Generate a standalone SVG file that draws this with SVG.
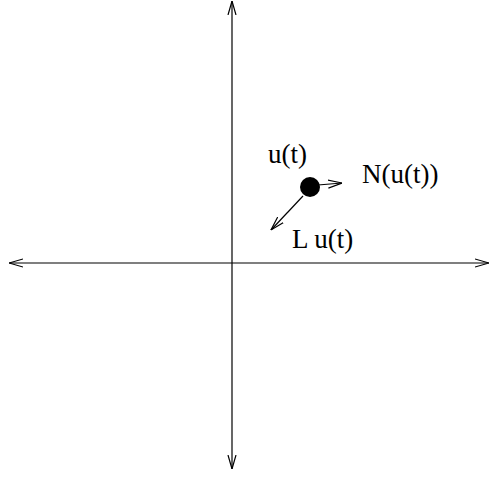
<svg xmlns="http://www.w3.org/2000/svg" width="491" height="478" viewBox="0 0 491 478">
<defs>
<style>
.ln{stroke:#000;stroke-width:1.2;fill:none}
.t{font-family:"Liberation Serif","Times New Roman",serif;font-size:27px;fill:#000}
</style>
<marker id="ah" viewBox="0 0 14 10" refX="14" refY="5" markerWidth="14" markerHeight="10" markerUnits="userSpaceOnUse" orient="auto">
<path d="M0,1 L14,5 L0,9" fill="none" stroke="#000" stroke-width="1.2"/>
</marker>
</defs>
<g id="connectors">
<line class="ln" x1="232" y1="263" x2="489" y2="263" marker-end="url(#ah)"/>
<line class="ln" x1="232" y1="263" x2="9" y2="263" marker-end="url(#ah)"/>
<line class="ln" x1="232" y1="263" x2="232" y2="1" marker-end="url(#ah)"/>
<line class="ln" x1="232" y1="263" x2="232" y2="469" marker-end="url(#ah)"/>
<line class="ln" x1="318" y1="185" x2="342" y2="183" marker-end="url(#ah)"/>
<line class="ln" x1="303" y1="196" x2="271" y2="230" marker-end="url(#ah)"/>
</g>
<g id="point">
<circle cx="310" cy="187" r="10" fill="#000"/>
<text class="t" x="268" y="163">u(t)</text>
</g>
<g id="N">
<text class="t" x="362" y="183">N(u(t))</text>
</g>
<g id="L">
<text class="t" x="292" y="248">L u(t)</text>
</g>
</svg>
